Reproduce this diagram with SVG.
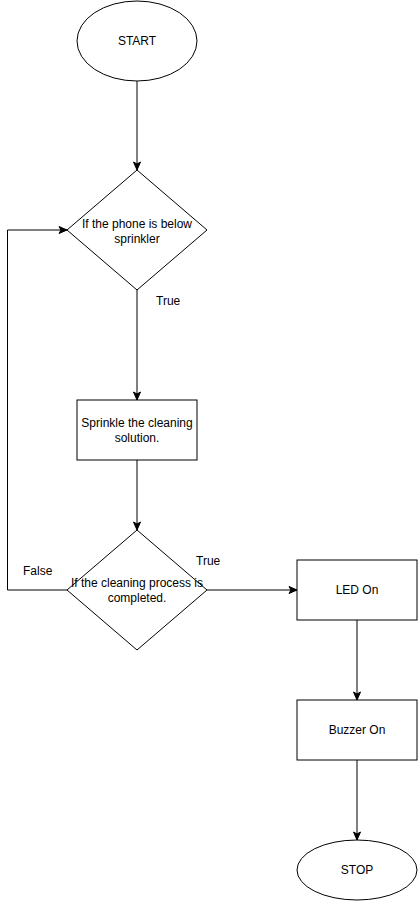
<svg xmlns="http://www.w3.org/2000/svg" width="418" height="901" viewBox="0 0 418 901">
<style>
.shape{fill:#ffffff;stroke:#000000;stroke-width:1}
.line{fill:none;stroke:#000000;stroke-width:1}
text{font-family:"Liberation Sans",Arial,sans-serif;font-size:12px;fill:#000000}
.c{text-anchor:middle}
</style>
<defs>
<marker id="arr" markerUnits="userSpaceOnUse" markerWidth="10" markerHeight="10" viewBox="0 0 10 10" refX="9" refY="5" orient="auto">
<path d="M1,1.5 L9,5 L1,8.5 L3,5 Z" fill="#000" stroke="#000" stroke-width="1"/>
</marker>
</defs>
<rect width="418" height="901" fill="#ffffff"/>
<g id="connectors">
<path class="line" d="M137,81 L137,170" marker-end="url(#arr)"/>
<path class="line" d="M137,290 L137,400" marker-end="url(#arr)"/>
<path class="line" d="M137,460 L137,530" marker-end="url(#arr)"/>
<path class="line" d="M67,590 L7.5,590 L7.5,230 L67,230" marker-end="url(#arr)"/>
<path class="line" d="M207,590 L297,590" marker-end="url(#arr)"/>
<path class="line" d="M357,620 L357,700" marker-end="url(#arr)"/>
<path class="line" d="M357,760 L357,840" marker-end="url(#arr)"/>
<text x="156" y="305">True</text>
<text x="23" y="575">False</text>
<text x="196" y="565">True</text>
</g>
<g id="start">
<ellipse class="shape" cx="137" cy="41" rx="60" ry="40"/>
<text class="c" x="137" y="45">START</text>
</g>
<g id="decision1">
<path class="shape" d="M137,170 L207,230 L137,290 L67,230 Z"/>
<text class="c" x="137" y="228">If the phone is below</text>
<text class="c" x="137" y="243">sprinkler</text>
</g>
<g id="sprinkle">
<rect class="shape" x="77" y="400" width="120" height="60"/>
<text class="c" x="137" y="427">Sprinkle the cleaning</text>
<text class="c" x="137" y="442">solution.</text>
</g>
<g id="decision2">
<path class="shape" d="M137,530 L207,590 L137,650 L67,590 Z"/>
<text class="c" x="137" y="587">If the cleaning process is</text>
<text class="c" x="137" y="602">completed.</text>
</g>
<g id="led">
<rect class="shape" x="297" y="560" width="120" height="60"/>
<text class="c" x="357" y="594">LED On</text>
</g>
<g id="buzzer">
<rect class="shape" x="297" y="700" width="120" height="60"/>
<text class="c" x="357" y="734">Buzzer On</text>
</g>
<g id="stop">
<ellipse class="shape" cx="357" cy="870" rx="60" ry="30"/>
<text class="c" x="357" y="874">STOP</text>
</g>
</svg>
